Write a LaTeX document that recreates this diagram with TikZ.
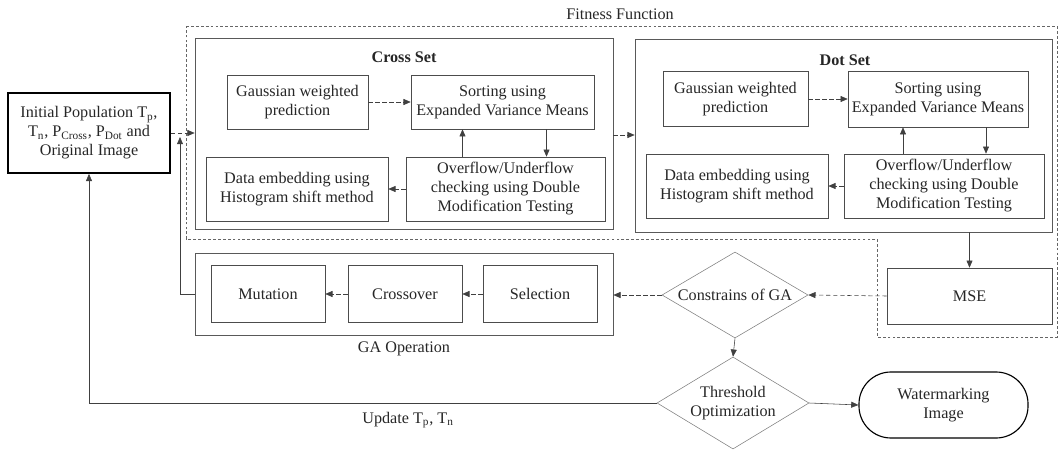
\documentclass[tikz,border=0pt]{standalone}
\usepackage{fontspec}
\setmainfont{Liberation Serif}
\usetikzlibrary{arrows.meta,shapes.geometric}

\begin{document}
\begin{tikzpicture}[
  x=0.025cm, y=-0.025cm,
  font=\fontsize{11.5}{13.5}\selectfont,
  box/.style={draw=black!70, align=center, inner sep=2pt, text=black!85},
  grp/.style={draw=black!65, inner sep=0pt},
  d/.style={draw=black!50, diamond, aspect=1.7, inner sep=0pt, align=center, text=black!85},
  t/.style={draw, thick, rounded corners=0.8cm, align=center, text=black!85,
    minimum width=4.225cm, minimum height=1.65cm},
  lbl/.style={text=black!85},
  arr/.style={-{Triangle[length=1.8mm,width=1.5mm]}, black!75},
  darr/.style={arr, densely dashed}
]
  \useasboundingbox (0,0) rectangle (1059,453);

  \node[box, very thick, draw=black, minimum width=4.05cm, minimum height=2cm] (init) at (89,133)
    {Initial Population T\textsubscript{p},\\ T\textsubscript{n}, P\textsubscript{Cross}, P\textsubscript{Dot} and\\ Original Image};

  % fitness function region
  \draw[black!60, dash pattern=on 2pt off 1.5pt]
    (186,26) -- (1057,26) -- (1057,337) -- (877,337) -- (877,239) -- (186,239) -- cycle;
  \node[lbl] (fitlbl) at (620,14) {Fitness Function};

  % cross set
  \node[grp, minimum width=10.45cm, minimum height=4.775cm] (cross) at (404,133.5) {};
  \node[lbl] (crosslbl) at (404,57) {\bfseries Cross Set};
  \node[box, minimum width=3.525cm, minimum height=1.35cm] (cgauss) at (297.5,102) {Gaussian weighted\\ prediction};
  \node[box, minimum width=4.575cm, minimum height=1.35cm] (csort) at (502.5,102) {Sorting using\\ Expanded Variance Means};
  \node[box, minimum width=4.975cm, minimum height=1.6cm] (cover) at (505.5,189) {Overflow/Underflow\\ checking using Double\\ Modification Testing};
  \node[box, minimum width=4.55cm, minimum height=1.6cm] (cembed) at (297,189) {Data embedding using\\ Histogram shift method};

  % dot set
  \node[grp, minimum width=10.425cm, minimum height=4.825cm] (dot) at (843.5,135.5) {};
  \node[lbl] (dotlbl) at (845,60) {\bfseries Dot Set};
  \node[box, minimum width=3.625cm, minimum height=1.375cm] (dgauss) at (735.5,99) {Gaussian weighted\\ prediction};
  \node[box, minimum width=4.5cm, minimum height=1.4cm] (dsort) at (938,99) {Sorting using\\ Expanded Variance Means};
  \node[box, minimum width=5cm, minimum height=1.6cm] (dover) at (944,186) {Overflow/Underflow\\ checking using Double\\ Modification Testing};
  \node[box, minimum width=4.55cm, minimum height=1.6cm] (dembed) at (737,186) {Data embedding using\\ Histogram shift method};

  \node[box, minimum width=4.125cm, minimum height=1.4cm] (mse) at (969.5,296) {MSE};

  % GA operation
  \node[grp, minimum width=10.45cm, minimum height=2.05cm] (ga) at (404,294) {};
  \node[lbl] (galbl) at (404,349) {GA Operation};
  \node[box, minimum width=2.85cm, minimum height=1.425cm] (mut) at (268,294) {Mutation};
  \node[box, minimum width=2.85cm, minimum height=1.425cm] (cro) at (405,294) {Crossover};
  \node[box, minimum width=2.85cm, minimum height=1.425cm] (sel) at (540,294) {Selection};

  \node[d, minimum width=3.65cm, minimum height=2.15cm] (cga) at (735,295) {Constrains of GA};
  \node[d, minimum width=3.8cm, minimum height=2.3cm] (thr) at (733,403) {Threshold\\ Optimization};
  \node[t] (wm) at (943.5,405) {Watermarking\\ Image};
  \node[lbl] (updlbl) at (408,420) {Update T\textsubscript{p}, T\textsubscript{n}};

  \coordinate (fb) at (180,137);

  \draw[darr] (init.east) -- (init.east -| cross.west);
  \draw[darr] (cgauss) -- (csort);
  \draw[arr] ([xshift=1.1cm]csort.south) -- ([xshift=1.1cm]csort.south |- cover.north);
  \draw[arr] ([xshift=-1cm]csort.south |- cover.north) -- ([xshift=-1cm]csort.south);
  \draw[darr] (cover) -- (cembed);
  \draw[darr] (cross.east |- 0,135) -- (dot.west |- 0,135);
  \draw[darr] (dgauss) -- (dsort);
  \draw[arr] ([xshift=1.2cm]dsort.south) -- ([xshift=1.2cm]dsort.south |- dover.north);
  \draw[arr] ([xshift=-0.875cm]dsort.south |- dover.north) -- ([xshift=-0.875cm]dsort.south);
  \draw[darr] (dover) -- (dembed);
  \draw[arr] (mse.north |- dot.south) -- (mse.north);
  \draw[darr] (mse.west) -- (cga.east);
  \draw[darr] (cga.west) -- (cga.west -| ga.east);
  \draw[darr] (sel) -- (cro);
  \draw[darr] (cro) -- (mut);
  \draw[arr] (ga.west) -| (fb);
  \draw[arr] (cga.south) -- (thr.north);
  \draw[arr] (thr.east) -- (wm.west);
  \draw[arr] (thr.west) -| (init.south);
\end{tikzpicture}
\end{document}
